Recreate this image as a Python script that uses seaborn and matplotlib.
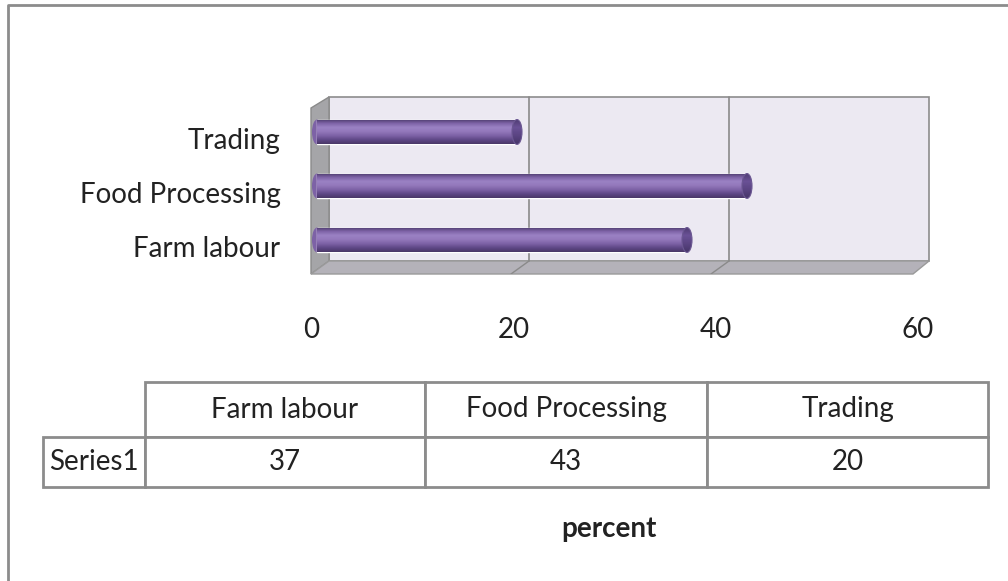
import numpy as np
import pandas as pd
import seaborn as sns
import matplotlib
matplotlib.use("Agg")
import matplotlib.pyplot as plt
import matplotlib.transforms as mtransforms
from matplotlib.patches import Polygon, Rectangle, Ellipse
from matplotlib.lines import Line2D
from matplotlib.colors import LinearSegmentedColormap

# Survey shares by occupation (percent)
categories = ["Farm labour", "Food Processing", "Trading"]
values = [37, 43, 20]
series_name = "Series1"
x_ticks = [0, 20, 40, 60]
axis_title = "percent"

sns.set_style("white")
plt.rcParams["font.family"] = ["Lato", "DejaVu Sans"]

W, H = 1008, 581
fig = plt.figure(figsize=(W / 100, H / 100), dpi=100)
fig.patch.set_facecolor("white")


def fig_box(x0, y0, x1, y1):
    """Pixel box (top-left origin) -> figure fraction rect."""
    return [x0 / W, 1 - y1 / H, (x1 - x0) / W, (y1 - y0) / H]


TXT = "#222222"
EDGE = "#8c8c8c"

# ---------------- bar chart with a 3-D style frame ----------------
ax = fig.add_axes(fig_box(311, 97, 929, 274))
df = pd.DataFrame({"category": categories, "value": values})
order = categories[::-1]
sns.barplot(data=df, x="value", y="category", order=order, orient="h",
            color="#8466b0", saturation=1, width=0.46, ax=ax, zorder=3)

XLIM = (-0.6, 61.2)
YLIM = (2.63, -0.648)
ax.set_xlim(*XLIM)
ax.set_ylim(*YLIM)
for s in ax.spines.values():
    s.set_visible(False)
ax.set_facecolor("none")
ax.set_xlabel("")
ax.set_ylabel("")

aw, ah = 618.0, 177.0
back_x0 = 18 / aw
back_y0 = 13 / ah
# back wall
ax.add_patch(Rectangle((back_x0, back_y0), 1 - back_x0, 1 - back_y0,
                       transform=ax.transAxes, facecolor="#ece9f2",
                       edgecolor=EDGE, lw=1.2, zorder=0, clip_on=False))
# left side wall
ax.add_patch(Polygon([(0, 0), (0, (274 - 108) / ah), (back_x0, 1), (back_x0, back_y0)],
                     closed=True, transform=ax.transAxes, facecolor="#a5a5a8",
                     edgecolor="#8a8a8a", lw=1.0, zorder=0.5, clip_on=False))
# floor
ax.add_patch(Polygon([(0, 0), ((913 - 311) / aw, 0), (1, back_y0), (back_x0, back_y0)],
                     closed=True, transform=ax.transAxes, facecolor="#b4b2b9",
                     edgecolor="#9a9a9a", lw=1.0, zorder=0.5, clip_on=False))

# gridlines on the back wall and their floor diagonals
blend = mtransforms.blended_transform_factory(ax.transData, ax.transAxes)
back_shift = blend + mtransforms.ScaledTranslation(12 / 100, 0, fig.dpi_scale_trans)
for t in x_ticks[1:-1]:
    ax.add_line(Line2D([t, t], [back_y0, 1], transform=back_shift,
                       color="#8a8a8a", lw=1.2, zorder=1, clip_on=False))
    p_back = back_shift.transform((t, back_y0))
    p_front = (blend + mtransforms.ScaledTranslation(-6 / 100, 0, fig.dpi_scale_trans)).transform((t, 0))
    ax.add_line(Line2D([p_back[0], p_front[0]], [p_back[1], p_front[1]],
                       transform=None, color="#8a8a8a", lw=1.0, zorder=1))

# cylinder shading for the bars
cyl = LinearSegmentedColormap.from_list(
    "cyl", ["#4c3a6c", "#7f64a8", "#9b82c4", "#9378bb", "#7d62a6", "#5f4887", "#4a3868"])
cap_cmap = LinearSegmentedColormap.from_list("cap", ["#4f3c72", "#6a5196", "#5a4482", "#47366a"])
grad = np.linspace(0, 1, 64).reshape(-1, 1)
bars = [p for p in ax.patches if isinstance(p, Rectangle) and p.get_zorder() == 3]
CAP_W = 1.0
for bar in bars:
    x0, y0 = bar.get_x(), bar.get_y()
    w, h = bar.get_width(), bar.get_height()
    yc = y0 + h / 2
    ax.add_patch(Ellipse((x0, yc), CAP_W, h, facecolor="#7d62a6", edgecolor="none", zorder=2.9))
    im = ax.imshow(grad, cmap=cyl, aspect="auto", extent=[x0, x0 + w, y0 + h, y0],
                   zorder=3.1, interpolation="bilinear")
    im.set_clip_path(bar)
    cap = Ellipse((x0 + w, yc), CAP_W, h, facecolor="#5e4784",
                  edgecolor="#6b5792", lw=0.8, zorder=3.2)
    ax.add_patch(cap)
    cim = ax.imshow(grad, cmap=cap_cmap, aspect="auto",
                    extent=[x0 + w - CAP_W / 2, x0 + w + CAP_W / 2, y0 + h, y0],
                    zorder=3.15, interpolation="bilinear")
    cim.set_clip_path(cap)
    cap.set_facecolor("none")
ax.set_xlim(*XLIM)
ax.set_ylim(*YLIM)

# ticks
ax.set_xticks(x_ticks)
ax.set_xticklabels([str(t) for t in x_ticks])
ax.tick_params(axis="x", length=0, pad=31, labelsize=20, labelcolor=TXT)
ax.tick_params(axis="y", length=0, pad=22, labelsize=20, labelcolor=TXT)
for t, lab in zip(x_ticks, ax.get_xticklabels()):
    # front plane of the floor sits slightly left of the bar plane
    dx = -6 + 7 * t / x_ticks[-1]
    lab.set_transform(lab.get_transform()
                      + mtransforms.ScaledTranslation(dx / 100, 0, fig.dpi_scale_trans))
yoff = mtransforms.ScaledTranslation(0, -7 / 100, fig.dpi_scale_trans)
for lab in ax.get_yticklabels():
    lab.set_transform(lab.get_transform() + yoff)

# ---------------- data table ----------------
tax = fig.add_axes(fig_box(43, 382, 988, 487))
tax.axis("off")
cell_text = [[""] + categories, [series_name] + [str(v) for v in values]]
tbl = tax.table(cellText=cell_text, cellLoc="center", bbox=[0, 0, 1, 1])
tbl.auto_set_font_size(False)
tbl.set_fontsize(20)
col_w = [102, 280, 282, 281]
row_h = [55, 50]
for (r, c), cell in tbl.get_celld().items():
    cell.set_width(col_w[c])
    cell.set_height(row_h[r])
    cell.set_edgecolor(EDGE)
    cell.set_linewidth(2)
    cell.get_text().set_color(TXT)
tbl[0, 0].visible_edges = ""

fig.text(609 / W, 1 - 529 / H, axis_title, ha="center", va="center",
         fontsize=20, fontweight="bold", color=TXT)

# outer chart-area border (left and top edges)
fig.add_artist(Line2D([8 / W, 8 / W, 1.0], [0.0, 1 - 5 / H, 1 - 5 / H],
                      transform=fig.transFigure, color=EDGE, lw=2))

fig.savefig("out.png", dpi=100, facecolor="white")
